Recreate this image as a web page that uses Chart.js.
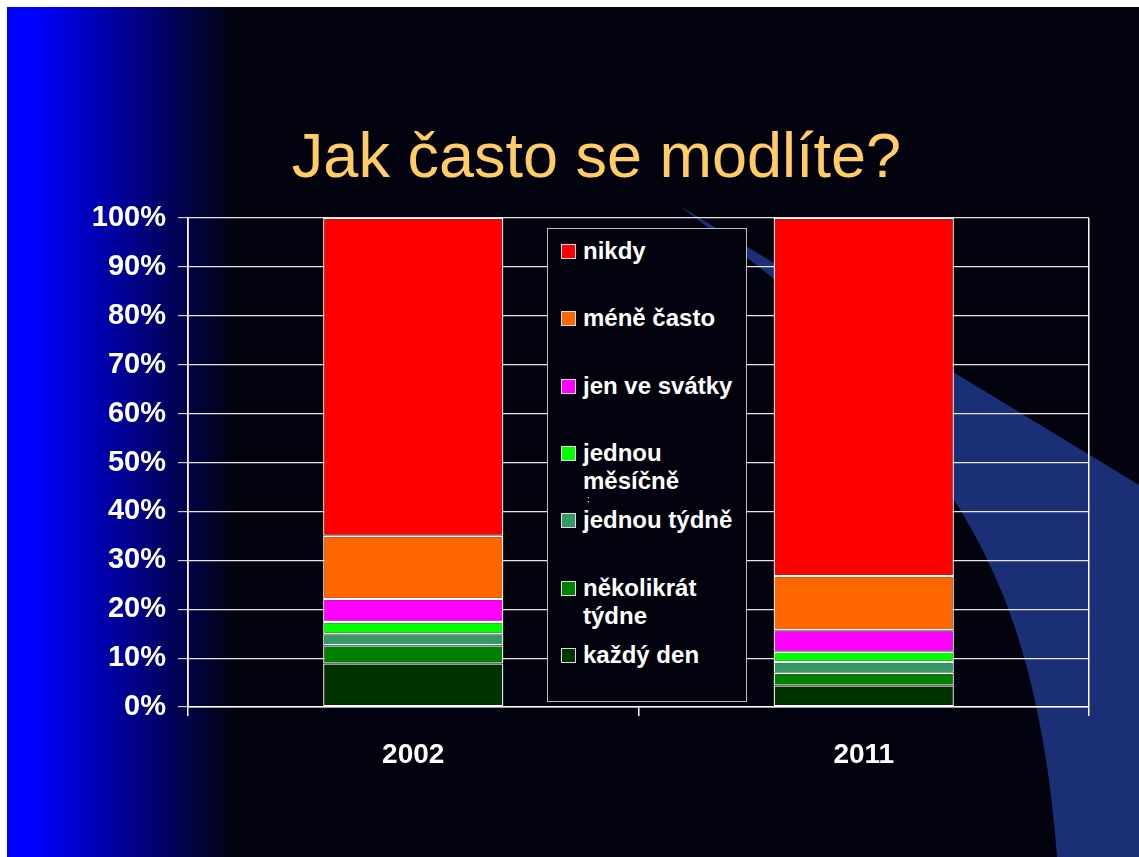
<!DOCTYPE html>
<html lang="cs">
<head>
<meta charset="utf-8">
<title>Jak často se modlíte?</title>
<script src="https://cdn.jsdelivr.net/npm/chart.js@4.4.1/dist/chart.umd.min.js"></script>
<style>
    html, body { margin: 0; padding: 0; background: #ffffff; }
    body { width: 1139px; height: 857px; position: relative; overflow: hidden; font-family: "Liberation Sans", Arial, sans-serif; }
    #chart { position: absolute; left: 0; top: 0; }
    #title { position: absolute; left: 0; top: 124px; width: 1193px; text-align: center; font-size: 63px; line-height: 63px; color: #FFCC66; white-space: nowrap; }
    #legend { position: absolute; left: 547px; top: 228px; width: 198px; height: 472px; border: 1.5px solid #BDBDBD; background: #03030F; }
    .item { position: absolute; left: 0; width: 198px; }
    .swatch { position: absolute; left: 13px; top: 7px; width: 13px; height: 13px; border: 1px solid #DDDDDD; }
    .label { position: absolute; left: 35px; top: 0; color: #ffffff; font-weight: bold; font-size: 24px; line-height: 28px; white-space: pre; }
    #stray { position: absolute; left: 587px; top: 494px; color: #ffffff; font-size: 9px; }
</style>
</head>
<body>
<canvas id="chart" width="1139" height="857"></canvas>
<div id="title">Jak často se modlíte?</div>
<div id="legend"></div>
<div id="stray">;</div>
<script>
const years = ['2002', '2011'];

const seriesNames = ['každý den', 'několikrát\ntýdne', 'jednou týdně', 'jednou\nměsíčně', 'jen ve svátky', 'méně často', 'nikdy'];
const seriesColors = ['#003300', '#008000', '#339966', '#00FF00', '#FF00FF', '#FF6600', '#FF0000'];

// percent of respondents, bottom to top
const kazdyDen = [8.9, 4.4];
const nekolikratTydne = [3.7, 2.6];
const jednouTydne = [2.3, 2.2];
const jednouMesicne = [2.5, 2.1];
const jenVeSvatky = [4.7, 4.4];
const meneCasto = [12.9, 11.1];
const nikdy = [65.0, 73.2];

const seriesValues = [kazdyDen, nekolikratTydne, jednouTydne, jednouMesicne, jenVeSvatky, meneCasto, nikdy];

const yTicks = [0, 10, 20, 30, 40, 50, 60, 70, 80, 90, 100];

const slideBackground = {
    id: 'slideBackground',
    beforeDraw(chart) {
        const ctx = chart.ctx;
        ctx.save();
        ctx.fillStyle = '#ffffff';
        ctx.fillRect(0, 0, chart.width, chart.height);
        ctx.fillStyle = '#03030F';
        ctx.fillRect(7, 7, 1132, 850);

        const grad = ctx.createLinearGradient(7, 0, 235, 0);
        grad.addColorStop(0, '#0000FF');
        grad.addColorStop(0.12, '#0000FF');
        grad.addColorStop(1, '#03030F');
        ctx.fillStyle = grad;
        ctx.fillRect(7, 7, 228, 850);

        // swoosh in the slide template
        ctx.fillStyle = '#1B2F76';
        ctx.beginPath();
        ctx.moveTo(680, 206);
        ctx.lineTo(1139, 485);
        ctx.lineTo(1139, 857);
        ctx.lineTo(1057, 857);
        ctx.bezierCurveTo(1052, 790, 1040, 690, 1005, 600);
        ctx.bezierCurveTo(985, 550, 960, 505, 930, 465);
        ctx.bezierCurveTo(880, 400, 820, 330, 773, 278);
        ctx.closePath();
        ctx.fill();
        ctx.restore();
    }
};

const datasets = seriesNames.map((name, i) => ({
    label: name.replace('\n', ' '),
    data: seriesValues[i],
    backgroundColor: seriesColors[i],
    borderColor: '#FFFFFF',
    borderWidth: 1.3,
    borderSkipped: false,
    barPercentage: 0.4,
    categoryPercentage: 1.0
}));

new Chart(document.getElementById('chart'), {
    type: 'bar',
    data: { labels: years, datasets: datasets },
    plugins: [slideBackground],
    options: {
        responsive: false,
        animation: false,
        layout: { padding: { left: 7, right: 50, top: 218, bottom: 0 } },
        plugins: {
            legend: { display: false },
            tooltip: { enabled: false }
        },
        scales: {
            x: {
                stacked: true,
                afterFit: (s) => { s.height = 150; },
                grid: {
                    offset: true,
                    drawOnChartArea: true,
                    color: (c) => c.index === 1 ? 'rgba(0,0,0,0)' : '#FFFFFF',
                    tickColor: '#FFFFFF',
                    tickLength: 9,
                    lineWidth: 1.5
                },
                border: { color: '#FFFFFF', width: 1.5 },
                ticks: {
                    color: '#FFFFFF',
                    padding: 22,
                    font: { family: '"Liberation Sans", Arial, sans-serif', size: 28, weight: 'bold' }
                }
            },
            y: {
                stacked: true,
                min: 0,
                max: 100,
                afterFit: (s) => { s.width = 181; },
                afterBuildTicks: (s) => { s.ticks = yTicks.map(v => ({ value: v })); },
                grid: {
                    color: '#E6E6E6',
                    lineWidth: 1.2,
                    tickColor: '#CCCCCC',
                    tickLength: 10
                },
                border: { color: '#FFFFFF', width: 1.5 },
                ticks: {
                    color: '#FFFFFF',
                    padding: 12,
                    callback: (v) => v + '%',
                    font: { family: '"Liberation Sans", Arial, sans-serif', size: 29, weight: 'bold' }
                }
            }
        }
    }
});

// legend box, top entry is the top segment
const legendBox = document.getElementById('legend');
for (let i = seriesNames.length - 1, row = 0; i >= 0; i--, row++) {
    const item = document.createElement('div');
    item.className = 'item';
    item.style.top = (8 + row * 67.3) + 'px';
    const sw = document.createElement('div');
    sw.className = 'swatch';
    sw.style.background = seriesColors[i];
    const lbl = document.createElement('div');
    lbl.className = 'label';
    lbl.textContent = seriesNames[i];
    item.appendChild(sw);
    item.appendChild(lbl);
    legendBox.appendChild(item);
}
</script>
</body>
</html>
